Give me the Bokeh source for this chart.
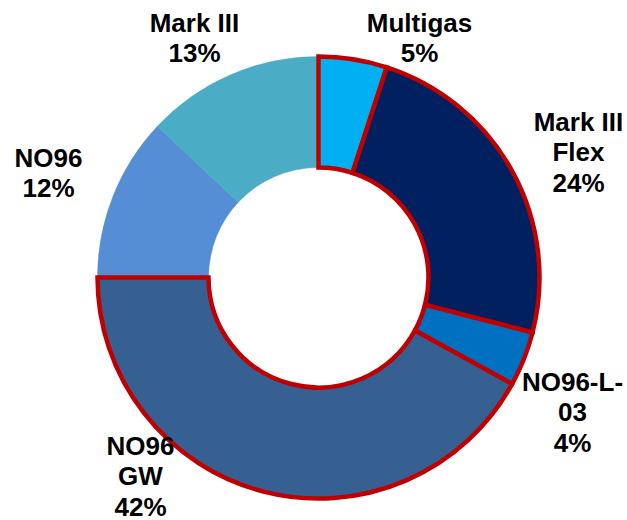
import math
from bokeh.plotting import figure
from bokeh.models import ColumnDataSource, Range1d
from bokeh.core.properties import value
from bokeh.embed import file_html
from bokeh.resources import INLINE

# ---- data ----
categories = ["Multigas", "Mark III Flex", "NO96-L-03", "NO96 GW", "NO96", "Mark III"]
shares = [5, 24, 4, 42, 12, 13]
highlighted = [True, True, True, True, False, False]
label_lines = [
    ["Multigas", "5%"],
    ["Mark III", "Flex", "24%"],
    ["NO96-L-", "03", "4%"],
    ["NO96", "GW", "42%"],
    ["NO96", "12%"],
    ["Mark III", "13%"],
]

# ---- styles / layout ----
colors = ["#00B0F0", "#002060", "#0070C0", "#376092", "#558ED5", "#4BACC6"]
W, H = 627, 520
cx, cy = 318, H - 277
r_out, r_in = 221, 110
# label anchor (pixel coords from top-left, first-line centre) and line spacing
label_pos = [(419, 22), (578, 121), (572, 381), (140, 445), (48, 157), (194, 22)]
line_gap = 30.5

p = figure(width=W, height=H, output_backend="svg", toolbar_location=None,
           x_range=Range1d(0, W), y_range=Range1d(0, H), min_border=0,
           outline_line_color=None)
p.axis.visible = False
p.grid.visible = False
p.background_fill_color = "white"

total = sum(shares)
starts, ends = [], []
cum = 0
for s in shares:
    a0 = math.pi / 2 - 2 * math.pi * (cum + s) / total
    a1 = math.pi / 2 - 2 * math.pi * cum / total
    starts.append(a0)
    ends.append(a1)
    cum += s

plain_idx = [i for i, h in enumerate(highlighted) if not h]
hl_idx = [i for i, h in enumerate(highlighted) if h]

def sub(idx):
    return ColumnDataSource(dict(cat=[categories[i] for i in idx],
                                 val=[shares[i] for i in idx],
                                 start=[starts[i] for i in idx],
                                 end=[ends[i] for i in idx],
                                 color=[colors[i] for i in idx]))

p.annular_wedge(x=cx, y=cy, inner_radius=r_in, outer_radius=r_out,
                start_angle="start", end_angle="end", fill_color="color",
                line_color="color", line_width=0.5, source=sub(plain_idx))
p.annular_wedge(x=cx, y=cy, inner_radius=r_in, outer_radius=r_out,
                start_angle="start", end_angle="end", fill_color="color",
                line_color="#C00000", line_width=4.5, line_join="miter", source=sub(hl_idx))

tx, ty, tt = [], [], []
for lines, (px, py) in zip(label_lines, label_pos):
    for k, t in enumerate(lines):
        tx.append(px)
        ty.append(H - (py + k * line_gap))
        tt.append(t)

p.text(x=tx, y=ty, text=tt, text_align="center", text_baseline="middle",
       text_font=value("Liberation Sans"), text_font_style="bold",
       text_font_size="26px", text_color="#000000")

open("out.html", "w").write(file_html(p, INLINE))
